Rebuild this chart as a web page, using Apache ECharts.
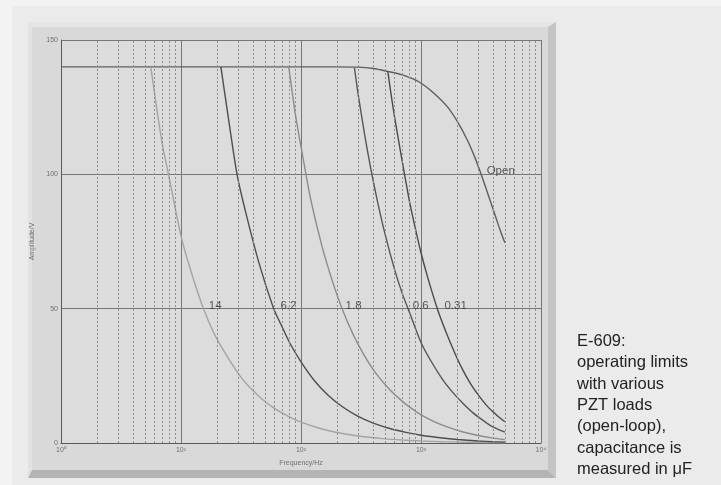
<!DOCTYPE html>
<html>
<head>
<meta charset="utf-8">
<script src="https://cdn.jsdelivr.net/npm/echarts@6/dist/echarts.min.js"></script>
<style>
html,body{margin:0;padding:0;background:#ebebeb;}
#c{width:721px;height:485px;}
</style>
</head>
<body>
<div id="c"></div>
<script>
// ---- data ----
const xTickLabels = ['10\u2070', '10\u00b9', '10\u00b2', '10\u00b3', '10\u2074'];
const yTickValues = [0, 50, 100, 150];

const openF = [1, 10, 100, 200, 300, 400, 529, 700, 850, 1005, 1282, 1656, 2000, 2432, 2800, 3142, 3500, 3810, 4200, 4600, 5000];
const openV = [140, 140, 140, 140, 139.9, 139.4, 138.3, 137, 135.6, 133.9, 130.2, 125.2, 119.8, 112.8, 106.5, 100.5, 94.5, 89.6, 84, 78.8, 74.5];

const c14F = [5.6, 6.3, 7, 7.87, 10, 12, 15.4, 20.2, 31.2, 45, 59.2, 80, 100, 150, 200, 300, 500, 700, 1000, 1500, 2000, 3000, 5000];
const c14V = [140, 124, 111, 100, 77, 64.5, 50, 38.2, 24.8, 17.2, 13.1, 9.7, 7.8, 5.2, 3.9, 2.6, 1.55, 1.1, 0.75, 0.48, 0.34, 0.2, 0.08];

const c62F = [21.5, 25, 29.3, 35, 45, 59.2, 67.3, 80, 100, 130, 170, 220, 294, 400, 550, 750, 1000, 1500, 2000, 3000, 4000, 5000];
const c62V = [140, 120, 100, 85, 66.5, 50, 44.6, 37.5, 30.2, 23.1, 17.6, 13.6, 10.1, 7.4, 5.4, 3.95, 2.9, 1.85, 1.3, 0.75, 0.48, 0.32];

const c18F = [79, 90, 105, 120, 150, 185, 220, 270, 330, 420, 550, 700, 850, 1000, 1300, 1700, 2200, 3000, 4000, 5000];
const c18V = [140, 122, 105, 91, 73, 59.5, 50, 40.7, 33.3, 26, 19.8, 15.5, 12.6, 10.5, 7.9, 5.8, 4.2, 2.8, 1.8, 1.2];

const c06F = [279, 300, 340, 380, 431, 500, 600, 700, 808, 1000, 1200, 1500, 1800, 2200, 2700, 3200, 3800, 4400, 5000];
const c06V = [139.6, 129.5, 114.5, 102.5, 90.5, 78, 64.8, 55.5, 48.2, 37.4, 30.8, 23.9, 19.3, 15.1, 11.3, 8.8, 6.5, 5.1, 4.1];

const c031F = [529, 560, 600, 680, 793, 900, 1000, 1150, 1368, 1600, 1900, 2200, 2600, 3000, 3500, 4000, 4500, 5000];
const c031V = [138.3, 130.5, 121.8, 107.6, 91, 79.6, 70.8, 60.9, 50, 41.8, 33.8, 27.7, 21.9, 17.9, 14.1, 11.5, 9.5, 7.9];

const labelTexts = ['14', '6.2', '1.8', '0.6', '0.31', 'Open'];
const labelFreqs = [19.3, 78.5, 274, 993, 1945, 4617];
const labelAmps  = [51, 51, 51, 51, 51, 101.2];

const minorFreqs = [2,3,4,5,6,7,8,9,20,30,40,50,60,70,80,90,200,300,400,500,600,700,800,900,2000,3000,4000,5000,6000,7000,8000,9000];

const captionLines = ['E-609:', 'operating limits', 'with various', 'PZT loads', '(open-loop),', 'capacitance is', 'measured in \u03bcF'];

// ---- build ----
function pairs(f, v) { return f.map((x, i) => [x, v[i]]); }
const curves = [
  {name: 'Open', data: pairs(openF, openV), color: '#5e5e5e'},
  {name: '14', data: pairs(c14F, c14V), color: '#a4a4a4'},
  {name: '6.2', data: pairs(c62F, c62V), color: '#4e4e4e'},
  {name: '1.8', data: pairs(c18F, c18V), color: '#8c8c8c'},
  {name: '0.6', data: pairs(c06F, c06V), color: '#565656'},
  {name: '0.31', data: pairs(c031F, c031V), color: '#4a4a4a'}
];

const chart = echarts.init(document.getElementById('c'), null, {renderer: 'canvas'});

const series = [];
series.push({
  type: 'line', name: 'minor', data: [], z: 1, silent: true,
  markLine: {
    silent: true, symbol: 'none', animation: false,
    label: {show: false},
    lineStyle: {color: '#8e8e8e', width: 1, type: [2, 2]},
    data: minorFreqs.map(f => ({xAxis: f}))
  }
});
curves.forEach(c => {
  series.push({
    type: 'line', name: c.name, data: c.data, smooth: c.name === 'Open' ? 0.35 : 0.2, showSymbol: false, z: 3,
    lineStyle: {color: c.color, width: 1.4}, animation: false
  });
});
series.push({
  type: 'scatter', name: 'labels', z: 5, symbolSize: 1,
  itemStyle: {color: 'rgba(0,0,0,0)'},
  data: labelTexts.map((t, i) => [labelFreqs[i], labelAmps[i], t]),
  label: {
    show: true, position: 'inside', formatter: p => p.data[2],
    color: '#333333', fontSize: 11.5, fontFamily: 'Liberation Sans, Arial, sans-serif'
  },
  animation: false
});

const option = {
  animation: false,
  backgroundColor: '#ebebeb',
  graphic: [
    {type: 'rect', z: -20, shape: {x: 0, y: 0, width: 12, height: 485}, style: {fill: '#f3f3f3'}},
    {type: 'rect', z: -20, shape: {x: 0, y: 0, width: 721, height: 6}, style: {fill: '#f3f3f3'}},
    {type: 'polygon', z: -10, shape: {points: [[28,22],[556,22],[548,27],[32,27]]}, style: {fill: '#e5e5e5'}},
    {type: 'polygon', z: -10, shape: {points: [[28,22],[32,27],[32,470],[28,478]]}, style: {fill: '#e2e2e2'}},
    {type: 'polygon', z: -10, shape: {points: [[556,22],[556,478],[548,470],[548,27]]}, style: {fill: '#c4c4c4'}},
    {type: 'polygon', z: -10, shape: {points: [[28,478],[556,478],[548,470],[32,470]]}, style: {fill: '#b4b4b4'}},
    {type: 'rect', z: -10, shape: {x: 32, y: 27, width: 516, height: 443}, style: {fill: '#d9d9d9'}},
    {type: 'text', z: 10, left: 577, top: 331,
      style: {text: captionLines.join('\n'), fill: '#222', font: '16.5px "Liberation Sans", Arial, sans-serif', lineHeight: 21.3}}
  ],
  grid: {left: 61, top: 40, right: 180, bottom: 42, show: true, backgroundColor: '#dcdcdc', borderWidth: 0, containLabel: false},
  xAxis: {
    type: 'log', logBase: 10, min: 1, max: 10000,
    name: 'Frequency/Hz', nameLocation: 'middle', nameGap: 17,
    nameTextStyle: {color: '#707070', fontSize: 7, fontFamily: 'Liberation Sans, Arial, sans-serif'},
    axisLine: {show: true, lineStyle: {color: '#5a5a5a', width: 1}},
    axisTick: {show: false},
    axisLabel: {color: '#707070', fontSize: 7, margin: 4, showMinLabel: true, showMaxLabel: true,
      formatter: v => xTickLabels[Math.round(Math.log10(v))]},
    splitLine: {show: true, lineStyle: {color: '#767676', width: 1}}
  },
  yAxis: {
    type: 'value', min: 0, max: 150, interval: 50,
    name: 'Amplitude/V', nameLocation: 'middle', nameGap: 19, nameRotate: 90,
    nameTextStyle: {color: '#707070', fontSize: 7, fontFamily: 'Liberation Sans, Arial, sans-serif'},
    axisLine: {show: true, lineStyle: {color: '#5a5a5a', width: 1}},
    axisTick: {show: false},
    axisLabel: {color: '#707070', fontSize: 7, margin: 3,
      formatter: v => String(yTickValues[yTickValues.indexOf(v)])},
    splitLine: {show: true, lineStyle: {color: '#767676', width: 1}}
  },
  series: series
};
chart.setOption(option);
</script>
</body>
</html>
